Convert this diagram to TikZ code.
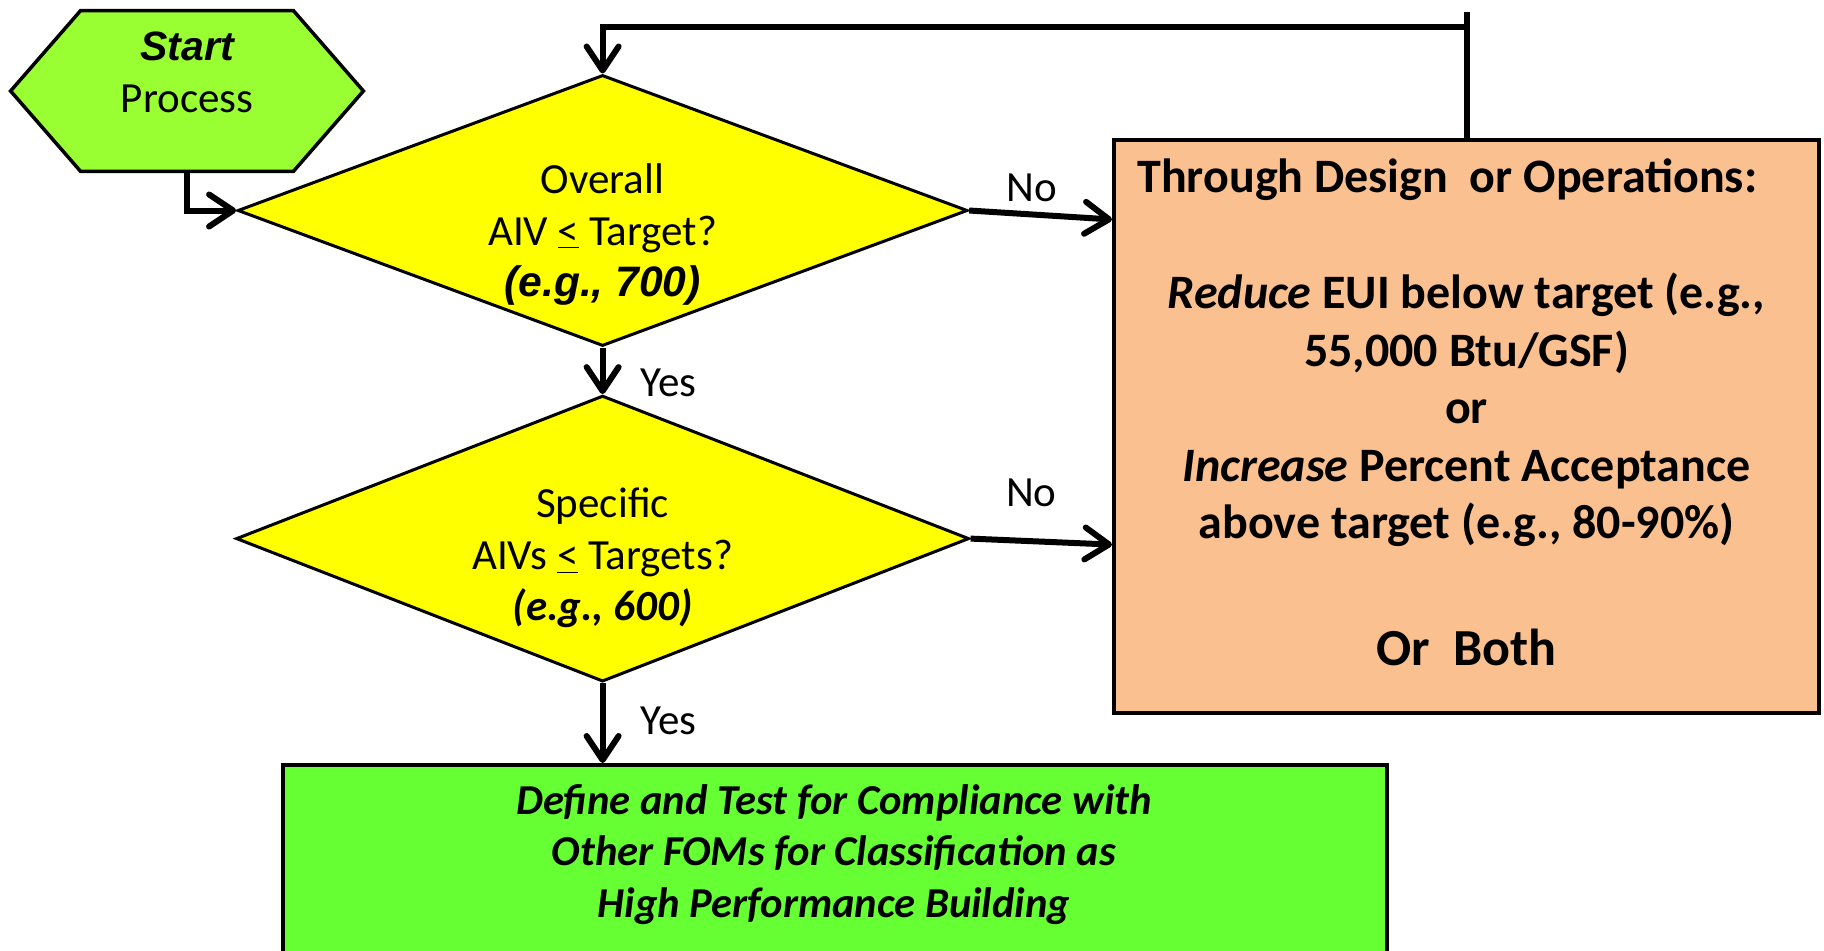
\documentclass[tikz,border=0pt]{standalone}
\usepackage{fontspec}
\setmainfont{Carlito}
\newfontfamily\arialfont{Liberation Sans}
\usetikzlibrary{positioning,shapes.geometric,arrows.meta,calc}

\definecolor{startgreen}{HTML}{99FF33}
\definecolor{askyellow}{HTML}{FFFF00}
\definecolor{actorange}{HTML}{FAC090}
\definecolor{goalgreen}{HTML}{66FF33}

\begin{document}
\begin{tikzpicture}[
    x=0.5pt, y=0.5pt,
    hexnode/.style={minimum width=176pt,minimum height=80pt,inner sep=0pt},
    hexline/.style={draw,line width=1.75pt,fill=startgreen},
    ask/.style={diamond,draw,line width=1.5pt,fill=askyellow,aspect=2.7,inner sep=0pt,minimum width=365pt,minimum height=135.5pt},
    act/.style={draw,line width=2pt,fill=actorange,minimum width=352.5pt,minimum height=286.5pt},
    goal/.style={draw,line width=2pt,fill=goalgreen,minimum width=552pt,minimum height=130pt},
    txt/.style={align=center,inner sep=0pt,font=\fontsize{21.5}{25.85}\selectfont},
    bigtxt/.style={align=center,inner sep=0pt,font=\fontsize{24}{28.7}\selectfont\bfseries},
    lbl/.style={inner sep=0pt,font=\fontsize{21.5}{24}\selectfont},
    flow/.style={line width=3pt,-{Straight Barb[length=12pt,width=16pt,round]}}
]
    \useasboundingbox (0,0) rectangle (1824,950);
    \clip (0,0) rectangle (1824,950);

    % Start hexagon
    \node[hexnode] (start) at (187,859) {};
    \draw[hexline] (start.west) -- ([xshift=35pt]start.north west) -- ([xshift=-35pt]start.north east)
        -- (start.east) -- ([xshift=-35pt]start.south east) -- ([xshift=35pt]start.south west) -- cycle;
    \node[txt] (startTxt) at (187,878) {{\arialfont\bfseries\itshape\fontsize{20.5}{25.85}\selectfont Start}\\Process};

    % Decisions
    \node[ask] (d1) at (602.6,739.5) {};
    \node[txt] (d1Txt) at (602.6,715.5) {Overall\\AIV \underline{<} Target?\\{\arialfont\bfseries\itshape\fontsize{21.3}{25.85}\selectfont (e.g., 700)}};
    \node[ask,minimum width=366.5pt,minimum height=143pt] (d2) at (602.6,411.4) {};
    \node[txt] (d2Txt) at (602.6,392) {Specific\\AIVs \underline{<} Targets?\\\textbf{\textit{(e.g., 600)}}};

    % Action box
    \node[act] (act) at (1466.5,523.7) {};
    \node[bigtxt,anchor=base west] (actTitle) at (1137,757.3) {Through Design~ or Operations:};
    \node[bigtxt] (actBody) at (1466.5,540) {\textit{Reduce} EUI below target (e.g.,\\55,000 Btu/GSF)\\or\\\textit{Increase} Percent Acceptance\\above target (e.g., 80-90\%)};
    \node[bigtxt,font=\fontsize{26}{30}\selectfont\bfseries,anchor=base] (actBoth) at (1466.5,285) {Or~ Both};

    % Goal box
    \node[goal,anchor=north] (goal) at (835,187) {};
    \node[txt,font=\fontsize{21.3}{25.6}\selectfont\bfseries\itshape] (goalTxt) at (834,95.5) {Define and Test for Compliance with\\Other FOMs for Classification as\\High Performance Building};

    % Connectors
    \draw[flow] (start.south) |- (d1.west);
    \draw[flow] (d1.south) -- node[lbl,anchor=west,pos=0.76,xshift=17.5pt] {Yes} (d2.north);
    \draw[flow] (d2.south) -- node[lbl,anchor=west,pos=0.47,xshift=17.5pt] {Yes} (d2.south |- goal.north);
    \draw[flow] (d1.east) -- node[lbl,above=4.75pt,pos=0.44] {No} ($(d1.east -| act.west)+(0,-9)$);
    \draw[flow] (d2.east) -- node[lbl,above=15.8pt,pos=0.43] {No} ($(d2.east -| act.west)+(0,-6)$);

    % Loop back
    \coordinate (loopTop) at (1466.5,938);
    \coordinate (loop) at (1466.5,923.3);
    \draw[line width=3pt] (act.north) -- (loopTop);
    \draw[flow] (loop) -| (d1.north);
\end{tikzpicture}
\end{document}
